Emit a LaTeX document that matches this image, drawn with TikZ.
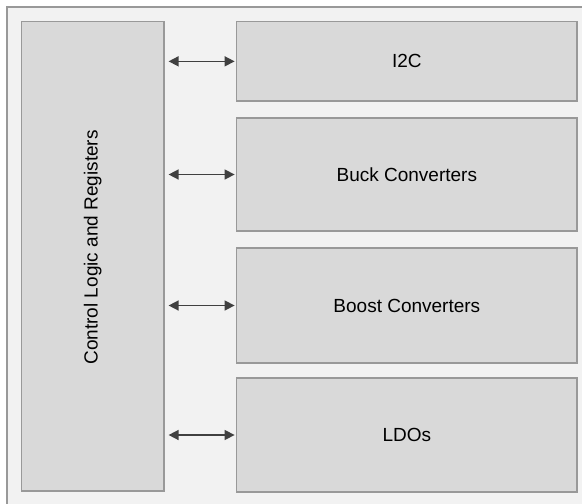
\documentclass[tikz,border=0pt]{standalone}
\usepackage{fontspec}
\setmainfont{Liberation Sans}
\usetikzlibrary{arrows.meta}
\definecolor{framefill}{HTML}{F2F2F2}
\definecolor{boxfill}{HTML}{D9D9D9}
\definecolor{boxline}{HTML}{999999}
\definecolor{arrowcol}{HTML}{404040}
\begin{document}
\begin{tikzpicture}[x=1pt,y=-1pt]
\useasboundingbox (0,0) rectangle (582,504);
\begin{scope}
    \clip (0,0) rectangle (582,504);
    \draw[boxline,fill=framefill,line width=1.2pt] (7,7) rectangle (600,520);
\end{scope}

\begin{scope}[every node/.style={rectangle,draw=boxline,fill=boxfill,line width=1.2pt,
              inner sep=0pt,font=\fontsize{19}{22}\selectfont}]
    \node[minimum width=142.5, minimum height=469.3] (ctrl) at (92.75,256.35) {};
    \node[minimum width=340.3, minimum height=79.3] (i2c) at (406.85,61.35) {I2C};
    \node[minimum width=340.3, minimum height=113] (buck) at (406.85,174.5) {Buck Converters};
    \node[minimum width=340.3, minimum height=115] (boost) at (406.85,305.5) {Boost Converters};
    \node[minimum width=340.3, minimum height=114] (ldo) at (406.85,435) {LDOs};
\end{scope}
\node[rotate=90,font=\fontsize{19}{22}\selectfont] (ctrltext) at ([yshift=9]ctrl.center) {Control Logic and Registers};

\begin{scope}[every edge/.style={draw=arrowcol,line width=1.5pt,
              {Triangle[length=10pt,width=10pt]}-{Triangle[length=10pt,width=10pt]},
              shorten <=4pt,shorten >=1.5pt}]
    \path (ctrl.east |- i2c.west) edge (i2c.west);
    \path (ctrl.east |- buck.west) edge (buck.west);
    \path (ctrl.east |- boost.west) edge (boost.west);
    \path (ctrl.east |- ldo.west) edge (ldo.west);
\end{scope}
\end{tikzpicture}
\end{document}
